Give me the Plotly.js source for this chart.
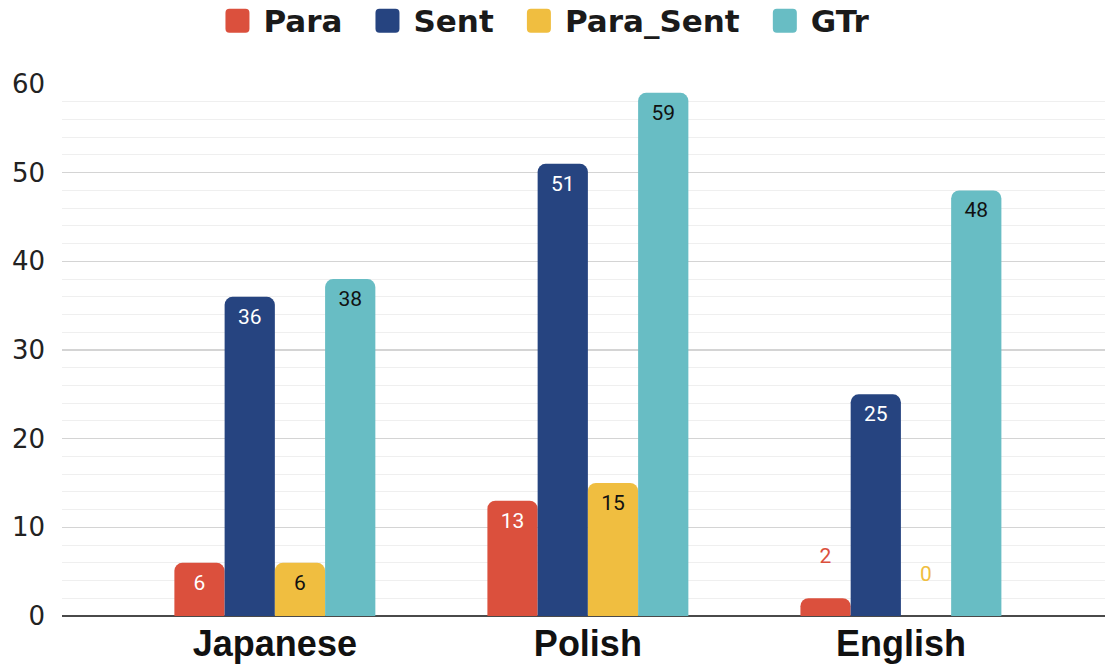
<!DOCTYPE html>
<html>
<head>
<meta charset="utf-8">
<script src="https://cdn.plot.ly/plotly-3.0.1.min.js"></script>
<style>
  html, body { margin: 0; padding: 0; background: #ffffff; }
  #chart { width: 1105px; height: 672px; }
</style>
</head>
<body>
<div id="chart"></div>
<script>
const categories = ["Japanese", "Polish", "English"];
const seriesNames = ["Para", "Sent", "Para_Sent", "GTr"];
const paraValues = [6, 13, 2];
const sentValues = [36, 51, 25];
const paraSentValues = [6, 15, 0];
const gtrValues = [38, 59, 48];
const yTickValues = [0, 10, 20, 30, 40, 50, 60];

const colors = ["#db503d", "#264480", "#f0be40", "#68bdc4"];
const insideTextColors = ["#ffffff", "#ffffff", "#111111", "#111111"];
const allValues = [paraValues, sentValues, paraSentValues, gtrValues];

const traces = allValues.map((vals, i) => ({
  type: "bar",
  name: seriesNames[i],
  x: categories,
  y: vals,
  text: vals.map(v => (v < 4 ? String(v) + "<br>&nbsp;" : String(v))),
  textposition: vals.map(v => (v < 4 ? "outside" : "inside")),
  insidetextanchor: "end",
  textangle: 0,
  cliponaxis: false,
  constraintext: "none",
  insidetextfont: { family: "Roboto, sans-serif", size: 21, color: insideTextColors[i] },
  outsidetextfont: { family: "Roboto, sans-serif", size: 21, color: colors[i] },
  marker: { color: colors[i], line: { width: 0 }, cornerradius: 8 },
  hoverinfo: "x+y+name"
}));

const layout = {
  width: 1105,
  height: 672,
  margin: { l: 62, r: 0, t: 84, b: 56, pad: 0, autoexpand: false },
  paper_bgcolor: "#ffffff",
  plot_bgcolor: "#ffffff",
  barmode: "group",
  bargap: 0.358,
  bargroupgap: 0,
  showlegend: true,
  legend: {
    orientation: "h",
    xref: "paper",
    yref: "paper",
    x: 0.4549,
    xanchor: "center",
    y: 1.171,
    yanchor: "top",
    itemwidth: 56,
    font: { family: "DejaVu Sans, sans-serif", size: 31, color: "#1a1a1a", weight: "bold" },
    itemclick: false,
    itemdoubleclick: false,
    bgcolor: "rgba(0,0,0,0)"
  },
  xaxis: {
    type: "category",
    range: [-0.68, 2.652],
    showgrid: false,
    zeroline: false,
    showline: false,
    ticks: "",
    tickangle: 0,
    automargin: false,
    tickfont: { family: "Liberation Sans, Arial, sans-serif", size: 36, color: "#111111", weight: "bold" },
    ticklabelstandoff: 3,
    fixedrange: true
  },
  yaxis: {
    range: [0, 60],
    tickvals: yTickValues,
    ticktext: yTickValues.map(String),
    automargin: false,
    tickfont: { family: "DejaVu Sans, sans-serif", size: 26, color: "#222222" },
    showgrid: true,
    gridcolor: "#d4d4d4",
    gridwidth: 1.5,
    zeroline: true,
    zerolinecolor: "#4a4a4a",
    zerolinewidth: 2,
    showline: false,
    ticks: "",
    ticklabelstandoff: 16,
    minor: { dtick: 2, showgrid: true, gridcolor: "#efefef", gridwidth: 1 },
    fixedrange: true
  }
};

function bigLegendSymbols() {
  document.querySelectorAll(".legend g.traces").forEach(g => {
    const text = g.querySelector("text.legendtext");
    const path = g.querySelector(".legendpoints path");
    if (!text || !path) return;
    const tRect = text.getBoundingClientRect();
    const pRect = path.getBoundingClientRect();
    const pBox = path.getBBox();
    const offX = pRect.left - pBox.x;
    const offY = (pRect.top + pRect.height / 2) - (pBox.y + pBox.height / 2);
    const right = (tRect.left - 14) - offX;
    const left = right - 24;
    const cy = (tRect.top + tRect.height / 2) - offY;
    const top = cy - 12, bot = cy + 12;
    const r = 4;
    const d = "M" + left + "," + (top + r) +
      "A" + r + "," + r + " 0 0 1 " + (left + r) + "," + top +
      "H" + (right - r) +
      "A" + r + "," + r + " 0 0 1 " + right + "," + (top + r) +
      "V" + (bot - r) +
      "A" + r + "," + r + " 0 0 1 " + (right - r) + "," + bot +
      "H" + (left + r) +
      "A" + r + "," + r + " 0 0 1 " + left + "," + (bot - r) + "Z";
    path.setAttribute("d", d);
  });
}

const gd = document.getElementById("chart");
Plotly.newPlot(gd, traces, layout, { displayModeBar: false, staticPlot: true }).then(() => {
  bigLegendSymbols();
});
</script>
</body>
</html>
